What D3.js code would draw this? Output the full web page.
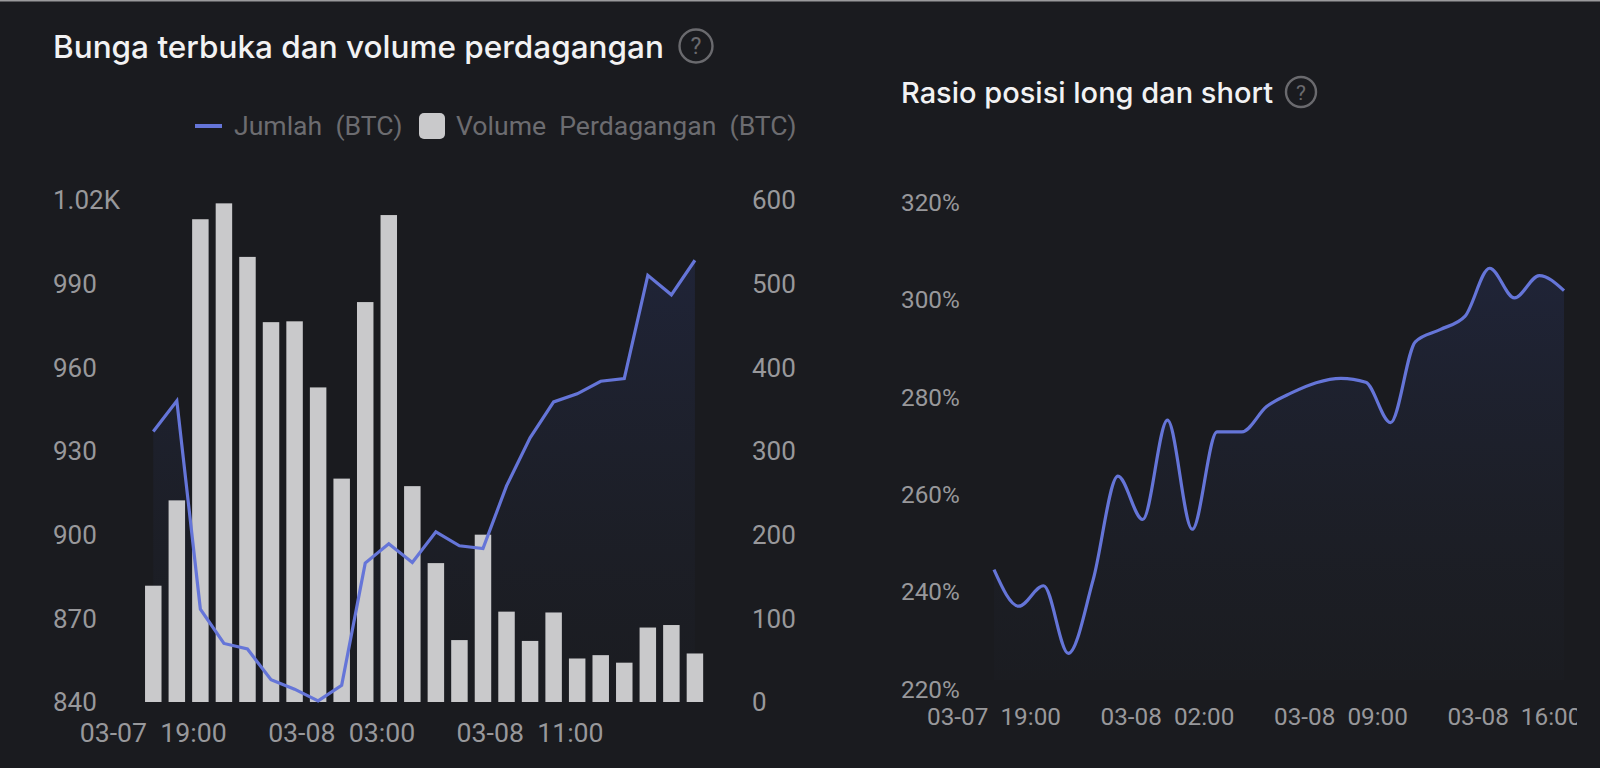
<!DOCTYPE html>
<html>
<head>
<meta charset="utf-8">
<script src="https://cdn.jsdelivr.net/npm/d3@7"></script>
<style>
  html, body { margin: 0; padding: 0; background: #1a1b1f; overflow: hidden; }
  svg { display: block; }
  text { font-family: Roboto, sans-serif; white-space: pre; }
</style>
</head>
<body>
<svg id="chart" width="1600" height="768"></svg>
<script>
// hourly categories, 03-07 19:00 to 03-08 18:00
const hours = ['19','20','21','22','23','00','01','02','03','04','05','06','07','08','09','10','11','12','13','14','15','16','17','18'];

const openInterest = [937, 948, 873.3, 861, 859, 848, 844.6, 840.4, 846, 889.8, 896.7, 890, 901, 896, 895, 917.5, 934.7, 947.6, 950.5, 955, 956, 993, 986, 998.4];
const tradeVolume = [139, 241, 577, 596, 532, 454, 455, 376, 267, 478, 582, 258, 166, 74, 200, 108, 73, 107, 52, 56, 47, 89, 92, 58];
const longShort = [244.5, 237, 241.2, 227.3, 242.4, 263.7, 254.8, 275.2, 252.8, 272.8, 272.8, 278, 280.8, 282.9, 283.8, 283, 274.7, 291.3, 293.8, 296.5, 306.4, 300.3, 304.9, 301.8];

const leftTicks = [840, 870, 900, 930, 960, 990, 1020];
const rightTicks = [0, 100, 200, 300, 400, 500, 600];
const ratioTicks = [220, 240, 260, 280, 300, 320];
const leftXTicks = [{ i: 0, label: '03-07  19:00' }, { i: 8, label: '03-08  03:00' }, { i: 16, label: '03-08  11:00' }];
const ratioXTicks = [{ i: 0, label: '03-07  19:00' }, { i: 7, label: '03-08  02:00' }, { i: 14, label: '03-08  09:00' }, { i: 21, label: '03-08  16:00' }];

const title1 = 'Bunga terbuka dan volume perdagangan';
const title2 = 'Rasio posisi long dan short';
const legendLine = 'Jumlah  (BTC)';
const legendBar = 'Volume  Perdagangan  (BTC)';

const lineColor = '#6575d8';
const barColor = '#c9c9cb';
const tickColor = '#98989b';

const svg = d3.select('#chart');

// top edge of the screenshot
svg.append('rect').attr('width', 1600).attr('height', 1.5).attr('fill', '#9a9a9c');

const defs = svg.append('defs');
const grad = defs.append('linearGradient').attr('id', 'areaFill').attr('x1', 0).attr('x2', 0).attr('y1', 0).attr('y2', 1);
grad.append('stop').attr('offset', '0%').attr('stop-color', '#232a48').attr('stop-opacity', 0.6);
grad.append('stop').attr('offset', '100%').attr('stop-color', '#20242f').attr('stop-opacity', 0.12);

defs.append('clipPath').attr('id', 'rightClip')
    .append('rect').attr('x', 880).attr('y', 0).attr('width', 697).attr('height', 768);

function helpIcon(cx, cy, r) {
    const g = svg.append('g');
    g.append('circle').attr('cx', cx).attr('cy', cy).attr('r', r)
        .attr('fill', 'none').attr('stroke', '#6a6a6e').attr('stroke-width', 2.4);
    g.append('text').attr('x', cx).attr('y', cy).attr('dy', '0.36em')
        .attr('text-anchor', 'middle').attr('font-size', r * 1.4).attr('fill', '#6a6a6e').text('?');
}

// ---- Left chart ----
const x1 = d3.scaleBand().domain(d3.range(hours.length)).range([141.5, 706.7]).paddingInner(0.3).paddingOuter(0.15);
const yLeft = d3.scaleLinear().domain([840, 1020]).range([702, 200]);
const yVol = d3.scaleLinear().domain([0, 600]).range([702, 200]);
const cx1 = i => x1(i) + x1.bandwidth() / 2;

svg.append('text').attr('x', 53).attr('y', 58)
    .style('font-family', 'Inter, sans-serif')
    .attr('font-size', 31.5).attr('font-weight', 500).attr('fill', '#f2f2f3').text(title1);
helpIcon(696, 46, 16.5);

// Legend
svg.append('line').attr('x1', 195).attr('x2', 222).attr('y1', 126).attr('y2', 126)
    .attr('stroke', lineColor).attr('stroke-width', 4);
svg.append('text').attr('x', 234).attr('y', 135).attr('font-size', 26.6).attr('fill', '#6c6c70').text(legendLine);
svg.append('rect').attr('x', 419).attr('y', 113).attr('width', 26).attr('height', 26).attr('rx', 5).attr('fill', barColor);
svg.append('text').attr('x', 456).attr('y', 135).attr('font-size', 26.6).attr('fill', '#6c6c70').text(legendBar);

// Area under the line, then bars, then line on top
svg.append('path').datum(openInterest).attr('fill', 'url(#areaFill)')
    .attr('d', d3.area().x((d, i) => cx1(i)).y0(702).y1(d => yLeft(d)));

svg.selectAll('.bar').data(tradeVolume).enter().append('rect')
    .attr('class', 'bar')
    .attr('x', (d, i) => x1(i))
    .attr('y', d => yVol(d))
    .attr('width', x1.bandwidth())
    .attr('height', d => 702 - yVol(d))
    .attr('fill', barColor);

svg.append('path').datum(openInterest).attr('fill', 'none')
    .attr('stroke', lineColor).attr('stroke-width', 3.2)
    .attr('d', d3.line().x((d, i) => cx1(i)).y(d => yLeft(d)));

// Axes
svg.selectAll('.tl').data(leftTicks).enter().append('text')
    .attr('x', 53).attr('y', d => yLeft(d)).attr('dy', '0.36em')
    .attr('font-size', 26).attr('fill', tickColor)
    .text(d => d >= 1000 ? (d / 1000).toFixed(2) + 'K' : d);
svg.selectAll('.tr').data(rightTicks).enter().append('text')
    .attr('x', 752).attr('y', d => yVol(d)).attr('dy', '0.36em')
    .attr('font-size', 26).attr('fill', tickColor).text(d => d);
svg.selectAll('.tx').data(leftXTicks).enter().append('text')
    .attr('x', d => cx1(d.i)).attr('y', 732).attr('dy', '0.36em')
    .attr('text-anchor', 'middle').attr('font-size', 26.7).attr('fill', tickColor).text(d => d.label);

// ---- Right chart ----
const x2 = d3.scalePoint().domain(d3.range(hours.length)).range([994, 1564]);
const yRatio = d3.scaleLinear().domain([220, 320]).range([689, 202]);

svg.append('text').attr('x', 901).attr('y', 103)
    .style('font-family', 'Inter, sans-serif')
    .attr('font-size', 29).attr('font-weight', 500).attr('fill', '#f2f2f3').text(title2);
helpIcon(1301, 92, 15);

svg.append('path').datum(longShort).attr('fill', 'url(#areaFill)')
    .attr('d', d3.area().x((d, i) => x2(i)).y0(680).y1(d => yRatio(d)).curve(d3.curveMonotoneX));
svg.append('path').datum(longShort).attr('fill', 'none')
    .attr('stroke', lineColor).attr('stroke-width', 3.2)
    .attr('d', d3.line().x((d, i) => x2(i)).y(d => yRatio(d)).curve(d3.curveMonotoneX));

svg.selectAll('.ty').data(ratioTicks).enter().append('text')
    .attr('x', 901).attr('y', d => yRatio(d)).attr('dy', '0.36em')
    .attr('font-size', 24.3).attr('fill', tickColor).text(d => d + '%');

const rightLabels = svg.append('g').attr('clip-path', 'url(#rightClip)');
rightLabels.selectAll('.tx2').data(ratioXTicks).enter().append('text')
    .attr('x', d => x2(d.i)).attr('y', 716).attr('dy', '0.36em')
    .attr('text-anchor', 'middle').attr('font-size', 24.3).attr('fill', tickColor).text(d => d.label);
</script>
</body>
</html>
